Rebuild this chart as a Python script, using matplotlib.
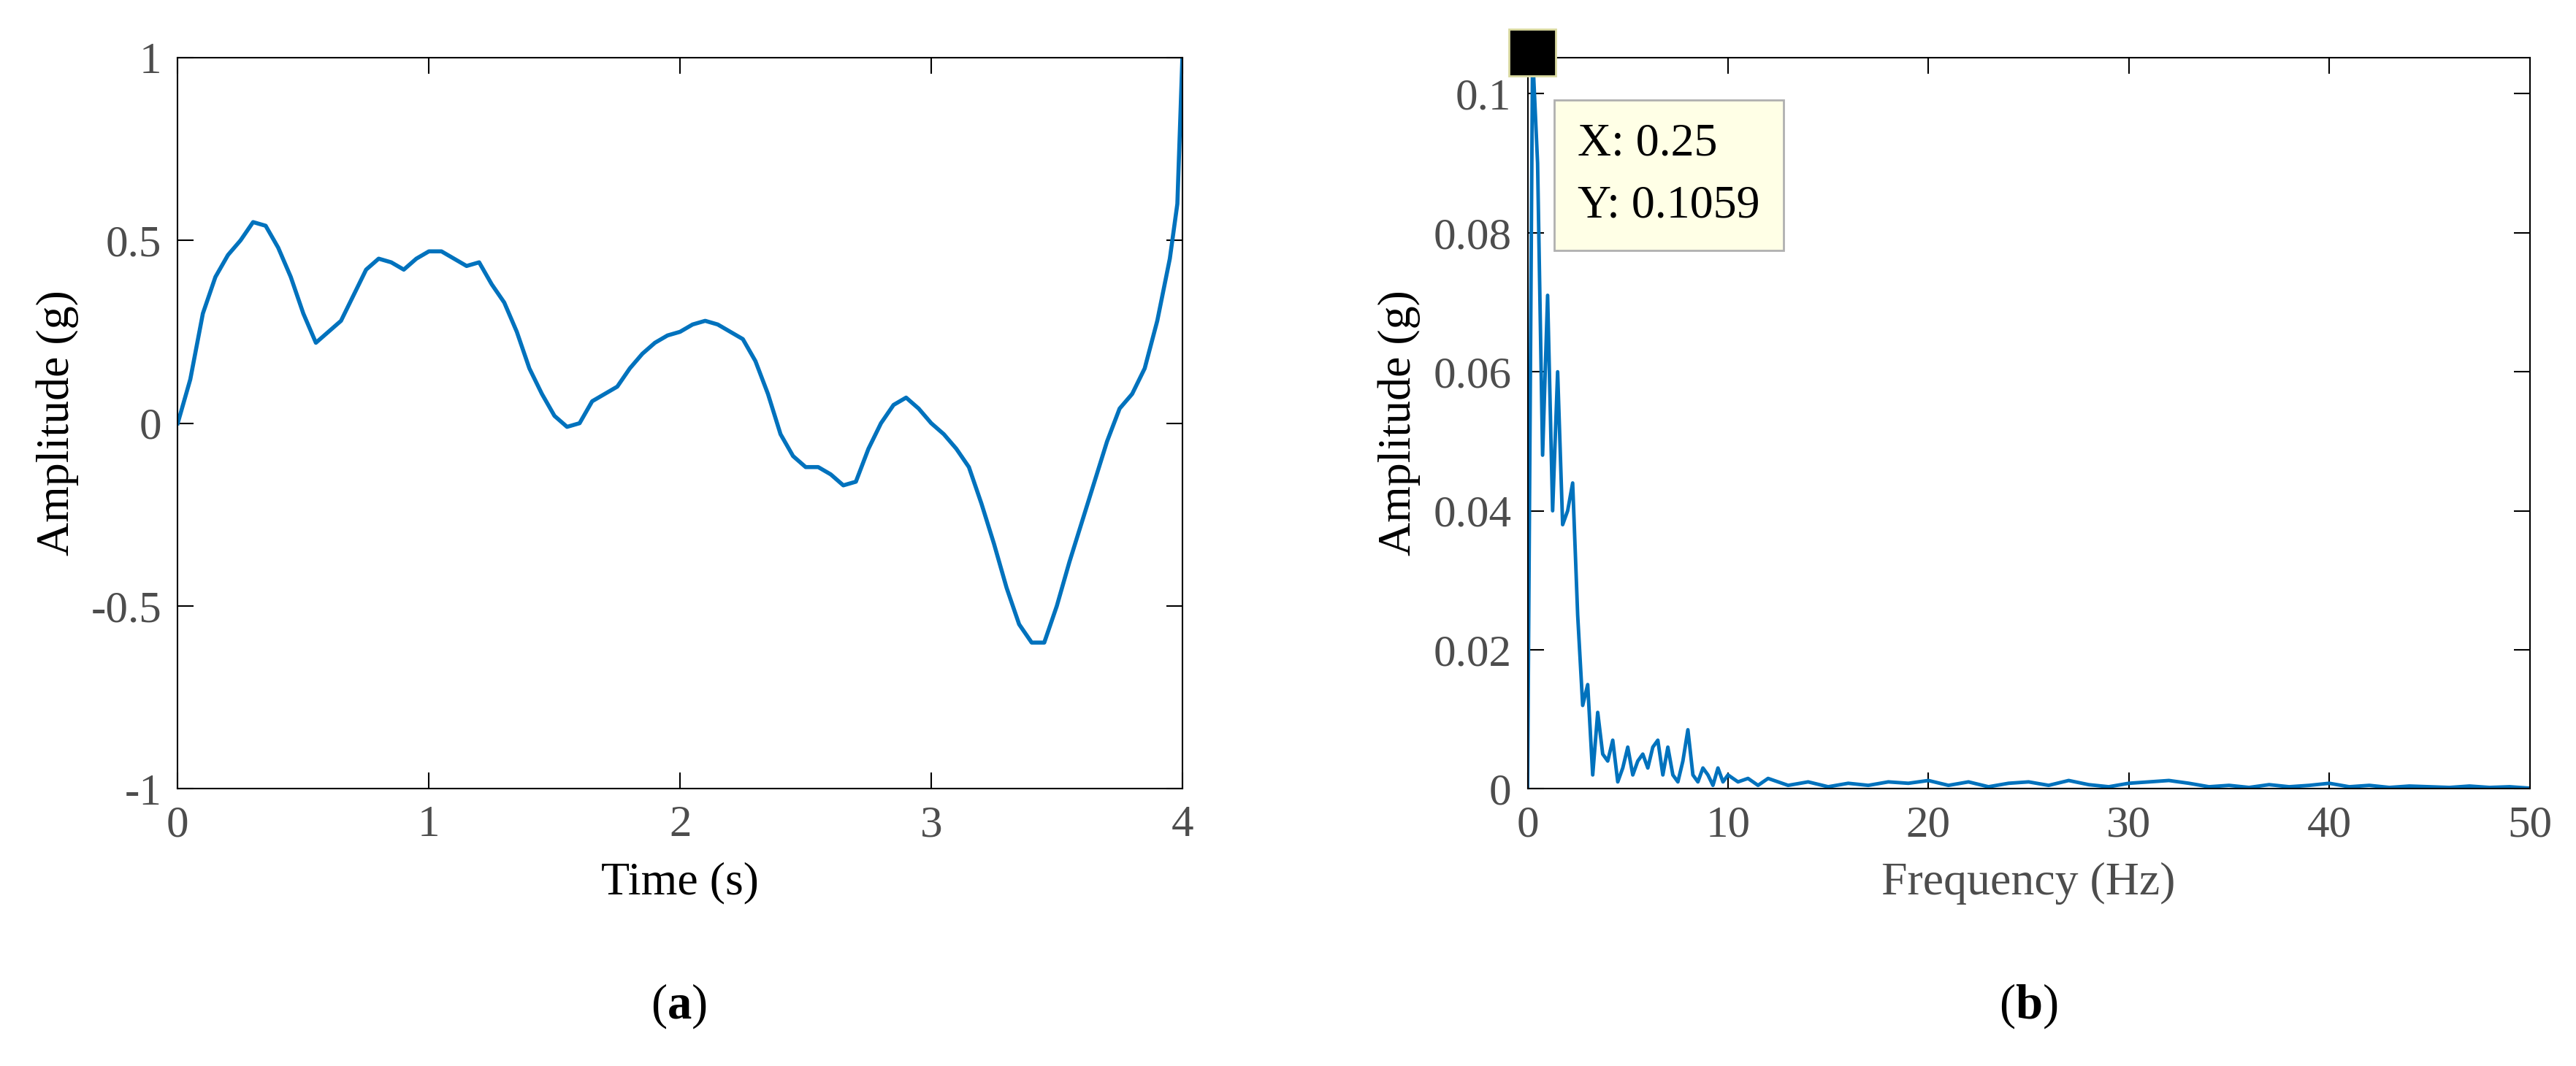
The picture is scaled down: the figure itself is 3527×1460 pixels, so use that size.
import matplotlib
matplotlib.use('Agg')
import matplotlib.pyplot as plt

# time signal (s, g)
t = [0, 0.05, 0.1, 0.15, 0.2, 0.25, 0.3, 0.35, 0.4, 0.45, 0.5, 0.55, 0.6, 0.65, 0.7, 0.75,
     0.8, 0.85, 0.9, 0.95, 1.0, 1.05, 1.1, 1.15, 1.2, 1.25, 1.3, 1.35, 1.4, 1.45, 1.5, 1.55,
     1.6, 1.65, 1.7, 1.75, 1.8, 1.85, 1.9, 1.95, 2.0, 2.05, 2.1, 2.15, 2.2, 2.25, 2.3, 2.35,
     2.4, 2.45, 2.5, 2.55, 2.6, 2.65, 2.7, 2.75, 2.8, 2.85, 2.9, 2.95, 3.0, 3.05, 3.1, 3.15,
     3.2, 3.25, 3.3, 3.35, 3.4, 3.45, 3.5, 3.55, 3.6, 3.65, 3.7, 3.75, 3.8, 3.85, 3.9, 3.95,
     3.98, 4.0]
amp = [0, 0.12, 0.3, 0.4, 0.46, 0.5, 0.55, 0.54, 0.48, 0.4, 0.3, 0.22, 0.25, 0.28, 0.35, 0.42,
       0.45, 0.44, 0.42, 0.45, 0.47, 0.47, 0.45, 0.43, 0.44, 0.38, 0.33, 0.25, 0.15, 0.08, 0.02, -0.01,
       0.0, 0.06, 0.08, 0.1, 0.15, 0.19, 0.22, 0.24, 0.25, 0.27, 0.28, 0.27, 0.25, 0.23, 0.17, 0.08,
       -0.03, -0.09, -0.12, -0.12, -0.14, -0.17, -0.16, -0.07, 0.0, 0.05, 0.07, 0.04, 0.0, -0.03, -0.07, -0.12,
       -0.22, -0.33, -0.45, -0.55, -0.6, -0.6, -0.5, -0.38, -0.27, -0.16, -0.05, 0.04, 0.08, 0.15, 0.28, 0.45,
       0.6, 1.0]

# spectrum (Hz, g)
freq = [0, 0.25, 0.5, 0.75, 1.0, 1.25, 1.5, 1.75, 2.0, 2.25, 2.5, 2.75, 3.0, 3.25, 3.5, 3.75,
        4.0, 4.25, 4.5, 4.75, 5.0, 5.25, 5.5, 5.75, 6.0, 6.25, 6.5, 6.75, 7.0, 7.25, 7.5, 7.75,
        8.0, 8.25, 8.5, 8.75, 9.0, 9.25, 9.5, 9.75, 10.0, 10.5, 11.0, 11.5, 12.0, 12.5, 13, 14,
        15, 16, 17, 18, 19, 20, 21, 22, 23, 24, 25, 26, 27, 28, 29, 30, 31, 32, 33, 34,
        35, 36, 37, 38, 39, 40, 41, 42, 43, 44, 45, 46, 47, 48, 49, 50]
spec = [0.0, 0.1059, 0.09, 0.048, 0.071, 0.04, 0.06, 0.038, 0.04, 0.044, 0.025, 0.012, 0.015, 0.002, 0.011, 0.005,
        0.004, 0.007, 0.001, 0.003, 0.006, 0.002, 0.004, 0.005, 0.003, 0.006, 0.007, 0.002, 0.006, 0.002, 0.001, 0.004,
        0.0085, 0.002, 0.001, 0.003, 0.002, 0.0005, 0.003, 0.001, 0.002, 0.001, 0.0015, 0.0005, 0.0015, 0.001, 0.0005, 0.001,
        0.0003, 0.0008, 0.0005, 0.001, 0.0008, 0.0012, 0.0005, 0.001, 0.0003, 0.0008, 0.001, 0.0005, 0.0012, 0.0006, 0.0003, 0.0008, 0.001, 0.0012, 0.0008, 0.0003,
        0.0005, 0.0002, 0.0006, 0.0003, 0.0005, 0.0008, 0.0003, 0.0005, 0.0002, 0.0004, 0.0003, 0.0002, 0.0004, 0.0002, 0.0003, 0.0001]

plt.rcParams['font.family'] = ['Liberation Serif', 'DejaVu Serif']
plt.rcParams['mathtext.fontset'] = 'custom'
plt.rcParams['mathtext.bf'] = 'Liberation Serif:bold'
plt.rcParams['font.size'] = 44
line_c = '#0072BD'
gray = '#4d4d4d'

fig = plt.figure(figsize=(35.27, 14.60), dpi=100)
ax1 = fig.add_axes([0.069, 0.26, 0.39, 0.686])
ax2 = fig.add_axes([0.593, 0.26, 0.389, 0.686])

ax1.plot(t, amp, color=line_c, lw=4)
ax1.set_xlim(0, 4)
ax1.set_ylim(-1, 1)
ax1.set_xticks([0, 1, 2, 3, 4])
ax1.set_yticks([-1, -0.5, 0, 0.5, 1])
ax1.set_yticklabels(['-1', '-0.5', '0', '0.5', '1'])
ax1.set_xlabel('Time (s)', fontsize=46, labelpad=16)
ax1.set_ylabel('Amplitude (g)', fontsize=46, labelpad=12)

ax2.plot(freq, spec, color=line_c, lw=3.5)
ax2.set_xlim(0, 50)
ax2.set_ylim(0, 0.1052)
ax2.set_xticks([0, 10, 20, 30, 40, 50])
ax2.set_yticks([0, 0.02, 0.04, 0.06, 0.08, 0.1])
ax2.set_yticklabels(['0', '0.02', '0.04', '0.06', '0.08', '0.1'])
ax2.set_xlabel('Frequency (Hz)', fontsize=46, color=gray, labelpad=16)
ax2.set_ylabel('Amplitude (g)', fontsize=46, labelpad=12)
ax2.plot([0.25], [0.1059], marker='s', markersize=46, color='black',
         markeredgecolor='#d9d9a0', markeredgewidth=2, clip_on=False, zorder=5)
ax2.text(0.05, 0.91, 'X: 0.25\nY: 0.1059', transform=ax2.transAxes, fontsize=46,
         va='top', ha='left', linespacing=1.6,
         bbox=dict(boxstyle='square,pad=0.5', fc='#ffffe6', ec='#b0b0b0', lw=2))

for ax in (ax1, ax2):
    ax.tick_params(direction='in', length=16, width=1.5, top=True, right=True,
                   labelcolor=gray, pad=16)
    for s in ax.spines.values():
        s.set_linewidth(1.5)

fig.text(0.2635, 0.045, r'($\mathbf{a}$)', ha='center', fontsize=48)
fig.text(0.7875, 0.045, r'($\mathbf{b}$)', ha='center', fontsize=48)
fig.savefig('out.png', dpi=100)
